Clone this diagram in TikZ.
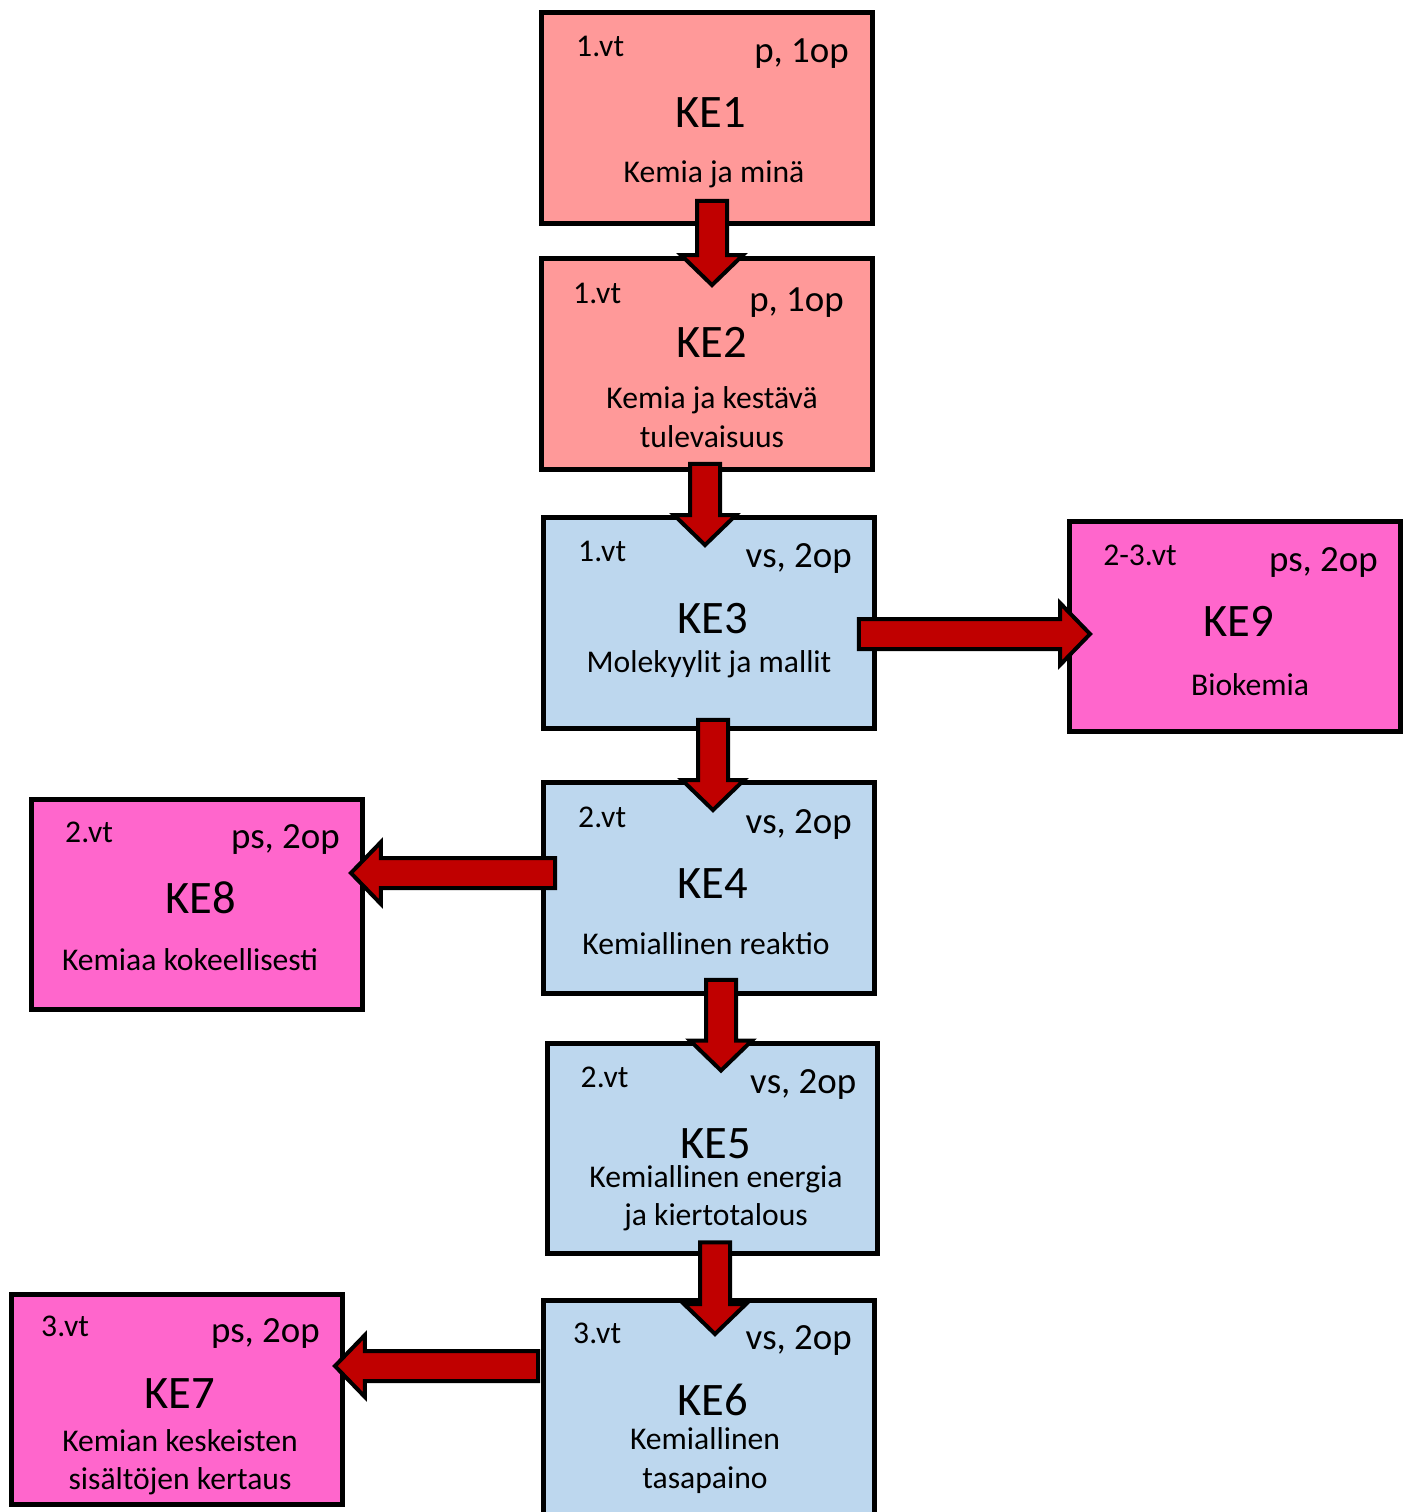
\documentclass[tikz,border=0pt]{standalone}
\usepackage{fontspec}
\setmainfont{Carlito}
\usetikzlibrary{calc}

\definecolor{pakollinen}{HTML}{FF9999}
\definecolor{valtakunnallinen}{HTML}{BDD7EE}
\definecolor{paikallinen}{HTML}{FF66CC}
\definecolor{nuolenpuna}{HTML}{C00000}

\tikzset{
    kurssi/.style={draw, line width=0.1cm, minimum width=6.62cm, minimum height=4.22cm, inner sep=0pt},
    vt/.style={anchor=base west, font=\fontsize{18}{22}\selectfont},
    op/.style={anchor=base east, font=\fontsize{21}{25}\selectfont},
    nimi/.style={anchor=base, font=\fontsize{26.5}{31}\selectfont},
    kuvaus/.style={anchor=base, align=center, font=\fontsize{18}{21.8}\selectfont},
    nuolityyli/.style={draw=black, fill=nuolenpuna, line width=0.08cm}
}

% block arrow from #1 to #2
\newcommand{\nuoli}[2]{%
    \coordinate (alku) at (#1);
    \coordinate (karki) at (#2);
    \coordinate (kanta) at ($(karki)!0.6cm!(alku)$);
    \draw[nuolityyli] ($(alku)!0.3cm!90:(karki)$) -- ($(kanta)!0.3cm!-90:(alku)$)
        -- ($(kanta)!0.62cm!-90:(alku)$) -- (karki) -- ($(kanta)!0.62cm!90:(alku)$)
        -- ($(kanta)!0.3cm!90:(alku)$) -- ($(alku)!0.3cm!-90:(karki)$) -- cycle;
}

\begin{document}
\begin{tikzpicture}[x=0.02cm, y=0.02cm]
    \useasboundingbox (0,0) rectangle (1408,-1512);

    \node[kurssi, fill=pakollinen] (ke1) at (707,-118) {};
    \node[kurssi, fill=pakollinen] (ke2) at (707,-364) {};
    \node[kurssi, fill=valtakunnallinen] (ke3) at (709,-623) {};
    \node[kurssi, fill=paikallinen] (ke9) at (1235,-626.5) {};
    \node[kurssi, fill=valtakunnallinen] (ke4) at (709,-888) {};
    \node[kurssi, fill=paikallinen] (ke8) at (197,-904.5) {};
    \node[kurssi, fill=valtakunnallinen] (ke5) at (712.5,-1148.5) {};
    \node[kurssi, fill=valtakunnallinen, minimum height=4.4cm] (ke6) at (709,-1410.5) {};
    \node[kurssi, fill=paikallinen] (ke7) at (177,-1399.5) {};

    \nuoli{$(ke1.south)+(5,25)$}{$(ke2.north)+(5,-29)$}
    \nuoli{$(ke2.south)+(-2,8)$}{$(ke3.north)+(-4,-30)$}
    \nuoli{$(ke3.south)+(4,11)$}{$(ke4.north)+(4,-30)$}
    \nuoli{$(ke4.south)+(12,16)$}{$(ke5.north)+(8.5,-30)$}
    \nuoli{$(ke5.south)+(2.5,14)$}{$(ke6.north)+(6,-36)$}
    \nuoli{$(ke3.east)+(-18,-11)$}{$(ke9.west)+(23,-7.5)$}
    \nuoli{$(ke4.west)+(14,15)$}{$(ke8.east)+(-14,31.5)$}
    \nuoli{$(ke6.west)+(-3,44.5)$}{$(ke7.east)+(-10,33.5)$}

    \node[vt] (ke1vt) at ($(ke1.north west)+(31,-46)$) {1.vt};
    \node[op] (ke1op) at ($(ke1.north east)+(-20,-52)$) {p, 1op};
    \node[nimi] (ke1nimi) at ($(ke1.north)+(4,-117)$) {KE1};
    \node[kuvaus] (ke1kuvaus) at ($(ke1.north)+(7,-172)$) {Kemia ja minä};

    \node[vt] (ke2vt) at ($(ke2.north west)+(28,-47)$) {1.vt};
    \node[op] (ke2op) at ($(ke2.north east)+(-25,-55)$) {p, 1op};
    \node[nimi] (ke2nimi) at ($(ke2.north)+(5,-101)$) {KE2};
    \node[kuvaus] (ke2kuvaus) at ($(ke2.north)+(5,-191)$) {Kemia ja kestävä\\tulevaisuus};

    \node[vt] (ke3vt) at ($(ke3.north west)+(31,-46)$) {1.vt};
    \node[op] (ke3op) at ($(ke3.north east)+(-19,-52)$) {vs, 2op};
    \node[nimi] (ke3nimi) at ($(ke3.north)+(4,-118)$) {KE3};
    \node[kuvaus] (ke3kuvaus) at ($(ke3.north)+(0,-157)$) {Molekyylit ja mallit};

    \node[vt] (ke9vt) at ($(ke9.north west)+(30,-47)$) {2-3.vt};
    \node[op] (ke9op) at ($(ke9.north east)+(-19,-53)$) {ps, 2op};
    \node[nimi] (ke9nimi) at ($(ke9.north)+(4,-118)$) {KE9};
    \node[kuvaus] (ke9kuvaus) at ($(ke9.north)+(15,-177)$) {Biokemia};

    \node[vt] (ke4vt) at ($(ke4.north west)+(31,-47)$) {2.vt};
    \node[op] (ke4op) at ($(ke4.north east)+(-19,-53)$) {vs, 2op};
    \node[nimi] (ke4nimi) at ($(ke4.north)+(4,-118)$) {KE4};
    \node[kuvaus] (ke4kuvaus) at ($(ke4.north)+(-3,-174)$) {Kemiallinen reaktio};

    \node[vt] (ke8vt) at ($(ke8.north west)+(30,-46)$) {2.vt};
    \node[op] (ke8op) at ($(ke8.north east)+(-19,-52)$) {ps, 2op};
    \node[nimi] (ke8nimi) at ($(ke8.north)+(4,-117)$) {KE8};
    \node[kuvaus] (ke8kuvaus) at ($(ke8.north)+(-7,-174)$) {Kemiaa kokeellisesti};

    \node[vt] (ke5vt) at ($(ke5.north west)+(30,-47)$) {2.vt};
    \node[op] (ke5op) at ($(ke5.north east)+(-18,-53)$) {vs, 2op};
    \node[nimi] (ke5nimi) at ($(ke5.north)+(3.5,-118)$) {KE5};
    \node[kuvaus] (ke5kuvaus) at ($(ke5.north)+(3.5,-185)$) {Kemiallinen energia\\ja kiertotalous};

    \node[vt] (ke6vt) at ($(ke6.north west)+(26,-45)$) {3.vt};
    \node[op] (ke6op) at ($(ke6.north east)+(-19,-51)$) {vs, 2op};
    \node[nimi] (ke6nimi) at ($(ke6.north)+(4,-117)$) {KE6};
    \node[kuvaus] (ke6kuvaus) at ($(ke6.north)+(-4,-190)$) {Kemiallinen\\tasapaino};

    \node[vt] (ke7vt) at ($(ke7.north west)+(26,-45)$) {3.vt};
    \node[op] (ke7op) at ($(ke7.north east)+(-19,-51)$) {ps, 2op};
    \node[nimi] (ke7nimi) at ($(ke7.north)+(3,-117)$) {KE7};
    \node[kuvaus] (ke7kuvaus) at ($(ke7.north)+(3,-198)$) {Kemian keskeisten\\sisältöjen kertaus};
\end{tikzpicture}
\end{document}
